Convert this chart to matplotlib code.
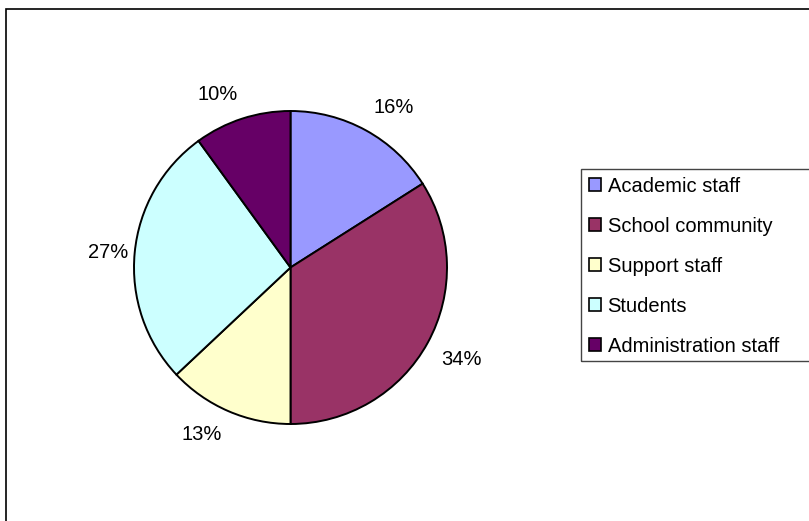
import numpy as np
import matplotlib.pyplot as plt
from matplotlib.patches import Rectangle

# share of each group
groups = ["Academic staff", "School community", "Support staff", "Students", "Administration staff"]
shares = [16, 34, 13, 27, 10]
colors = ["#9999FF", "#993366", "#FFFFCC", "#CCFFFF", "#660066"]

W, H = 809, 521
plt.rcParams['font.family'] = ['Liberation Sans', 'DejaVu Sans']
FS = 14.5

fig = plt.figure(figsize=(W / 100, H / 100), dpi=100)

# outer chart frame (runs off the right/bottom edge)
fig.patches.append(Rectangle((6 / W, -0.1), 1.2, 1.1 - 9 / H, transform=fig.transFigure,
                             fill=False, edgecolor="black", linewidth=1.2, zorder=0))

# pie placed in pixel space: centre (290.5, 267.5), radius 156.5
cx, cy, r = 290.5, 267.5, 156.5
ax = fig.add_axes([(cx - r) / W, (H - cy - r) / H, 2 * r / W, 2 * r / H])
wedges, _ = ax.pie(shares, colors=colors, startangle=90, counterclock=False, radius=1,
                   wedgeprops=dict(edgecolor="black", linewidth=1.4))
ax.set_xlim(-1, 1)
ax.set_ylim(-1, 1)
ax.axis("off")

# percentage labels sit just outside the rim, anchored on the corner nearest the pie
for w, v in zip(wedges, shares):
    mid = np.deg2rad((w.theta1 + w.theta2) / 2)
    x, y = np.cos(mid), np.sin(mid)
    ha = "left" if x > 0 else "right"
    if abs(y) < 0.3:
        va, d = "center", 1.04
    else:
        va, d = ("bottom" if y > 0 else "top"), 1.1
    ax.text(d * x, d * y, f"{v}%", ha=ha, va=va, fontsize=FS, color="black")

# legend box, also cut off at the right edge
fig.patches.append(Rectangle((581 / W, 1 - 361 / H), 1.0, (361 - 169) / H,
                             transform=fig.transFigure, fill=False,
                             edgecolor="#444444", linewidth=1.0))
leg = fig.legend(wedges, groups, loc="upper left", bbox_to_anchor=(589 / W, 1 - 177 / H),
                 borderaxespad=0, fontsize=FS, frameon=False,
                 handlelength=0.62, handleheight=0.62, handletextpad=0.3,
                 labelspacing=1.04, borderpad=0)
for h in leg.legend_handles:
    h.set_edgecolor("black")
    h.set_linewidth(1.2)

fig.savefig("out.png", dpi=100)
